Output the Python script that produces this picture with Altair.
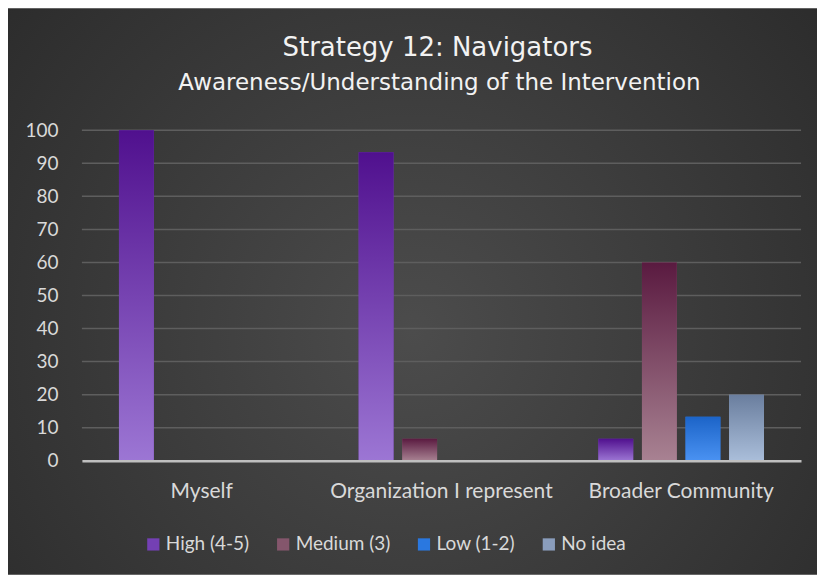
import altair as alt
import pandas as pd

title_text = "Strategy 12: Navigators"
subtitle_text = "Awareness/Understanding of the Intervention"
categories = ["Myself", "Organization I represent", "Broader Community"]
series = ["High (4-5)", "Medium (3)", "Low (1-2)", "No idea"]
high = [100, 93.3, 6.7]
medium = [0, 6.7, 60]
low = [0, 0, 13.3]
no_idea = [0, 0, 20]
y_ticks = [0, 10, 20, 30, 40, 50, 60, 70, 80, 90, 100]
legend_colors = ["#7440b4", "#84566c", "#2a78e0", "#8a9dbc"]
grad_top = ["#50108e", "#5a1a40", "#1c64c8", "#6a7e9e"]
grad_bottom = ["#9c76d4", "#a88292", "#4a92f2", "#aabeda"]

rows = []
for s, vals in zip(series, [high, medium, low, no_idea]):
    for c, v in zip(categories, vals):
        rows.append({"category": c, "series": s, "value": v})
df = pd.DataFrame(rows)

FONT = "Lato"
TFONT = "DejaVu Sans"
W, H = 720, 331
PL, PT, PR, PB = 74, 122, 16, 114

bg = alt.Chart(pd.DataFrame({"a": [0]})).mark_rect(
    clip=False,
    color={
        "gradient": "radial",
        "x1": 0.5, "y1": 0.55, "r1": 0,
        "x2": 0.5, "y2": 0.55, "r2": 0.75,
        "stops": [
            {"offset": 0, "color": "#4c4c4c"},
            {"offset": 1, "color": "#272727"},
        ],
    },
).encode(
    x=alt.value(-PL), x2=alt.value(W + PR),
    y=alt.value(-PT), y2=alt.value(H + PB),
)

y_scale = alt.Scale(domain=[0, 100])
y_axis = alt.Axis(title=None, values=y_ticks,
                  labelFontSize=19, labelColor="#d9d9d9", labelFont=FONT,
                  labelPadding=24, ticks=False, domain=False,
                  grid=False, zindex=1)

grid = alt.Chart(pd.DataFrame({"t": y_ticks[1:]})).mark_rule(
    color="#5e5e5e", strokeWidth=1.5
).encode(y=alt.Y("t:Q", scale=y_scale, axis=y_axis))

x_enc = alt.X("category:N", sort=categories,
              scale=alt.Scale(paddingInner=0, paddingOuter=0),
              axis=alt.Axis(title=None, labelAngle=0, labelFontSize=21,
                            labelColor="#d9d9d9", labelFont=FONT, labelLimit=400,
                            labelPadding=20, ticks=False, domain=True,
                            domainColor="#bfbfbf", domainWidth=2.5, grid=False,
                            zindex=1))
xo_enc = alt.XOffset("series:N", sort=series,
                     scale=alt.Scale(domain=series, paddingInner=0.2, paddingOuter=0.85))
y_enc = alt.Y("value:Q", scale=y_scale, axis=y_axis)

bars = alt.Chart(df).mark_bar().encode(
    x=x_enc, xOffset=xo_enc, y=y_enc,
    color=alt.Color("series:N", sort=series,
                    scale=alt.Scale(domain=series, range=legend_colors),
                    legend=alt.Legend(title=None, orient="none", direction="horizontal",
                                      legendX=62, legendY=405,
                                      symbolType="square", symbolSize=150,
                                      symbolStrokeWidth=0,
                                      labelFontSize=19, labelColor="#d9d9d9",
                                      labelFont=FONT, columnPadding=24,
                                      labelOffset=3)),
)

overlays = []
for s, top, bot in zip(series, grad_top, grad_bottom):
    overlays.append(
        alt.Chart(df).transform_filter(alt.datum.series == s).mark_bar(
            color={
                "gradient": "linear", "x1": 0, "y1": 0, "x2": 0, "y2": 1,
                "stops": [
                    {"offset": 0, "color": top},
                    {"offset": 1, "color": bot},
                ],
            }
        ).encode(x=x_enc, xOffset=xo_enc, y=y_enc)
    )

titles = alt.Chart(pd.DataFrame({"t": [title_text]})).mark_text(
    font=TFONT, fontSize=26, color="#f2f2f2", align="center", baseline="middle", clip=False
).encode(text="t:N", x=alt.value(W / 2 - 4), y=alt.value(-82))

subtitles = alt.Chart(pd.DataFrame({"t": [subtitle_text]})).mark_text(
    font=TFONT, fontSize=23, color="#f2f2f2", align="center", baseline="middle", clip=False
).encode(text="t:N", x=alt.value(W / 2 - 2), y=alt.value(-47))

chart = alt.layer(bg, grid, bars, *overlays, titles, subtitles).properties(
    width=W, height=H,
    autosize=alt.AutoSizeParams(type="none"),
    padding={"left": PL, "top": PT, "right": PR, "bottom": PB},
).configure_view(stroke=None).configure(background="white")

chart.save("out.html", embed_options={"renderer": "svg", "actions": False})
